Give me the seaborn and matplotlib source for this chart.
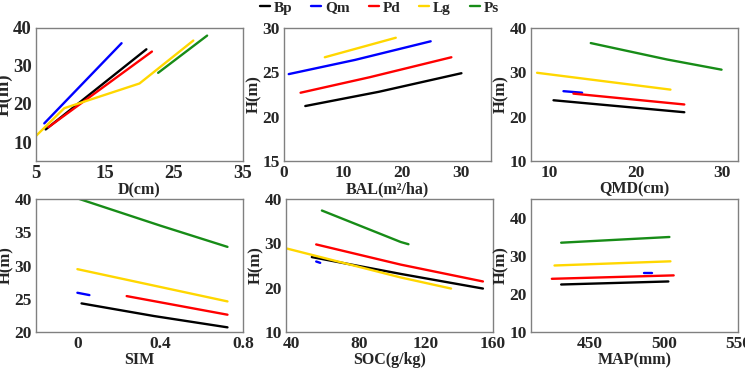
import pandas as pd
import matplotlib.pyplot as plt
import seaborn as sns
from matplotlib.lines import Line2D

species = ['Bp', 'Qm', 'Pd', 'Lg', 'Ps']
colors = {'Bp': 'black', 'Qm': '#0000ff', 'Pd': '#ff0000', 'Lg': '#ffd700', 'Ps': '#178c17'}

# D(cm)
d_bp_x = [6.4, 21.0]; d_bp_y = [13.3, 34.4]
d_qm_x = [6.2, 17.4]; d_qm_y = [14.9, 36.0]
d_pd_x = [6.8, 21.8]; d_pd_y = [13.9, 33.8]
d_lg_x = [5.0, 9.1, 20.0, 27.8]; d_lg_y = [11.6, 18.9, 25.4, 36.7]
d_ps_x = [22.7, 29.8]; d_ps_y = [28.2, 38.0]

# BAL(m2/ha)
bal_bp_x = [3.6, 16.0, 30.0]; bal_bp_y = [21.2, 22.8, 24.9]
bal_qm_x = [0.8, 12.0, 24.8]; bal_qm_y = [24.8, 26.4, 28.5]
bal_pd_x = [2.8, 14.5, 28.3]; bal_pd_y = [22.7, 24.45, 26.7]
bal_lg_x = [6.9, 18.9]; bal_lg_y = [26.7, 28.9]

# QMD(cm)
qmd_bp_x = [10.5, 25.6]; qmd_bp_y = [23.7, 21.0]
qmd_qm_x = [11.65, 13.8]; qmd_qm_y = [25.75, 25.4]
qmd_pd_x = [12.8, 25.6]; qmd_pd_y = [25.2, 22.75]
qmd_lg_x = [8.6, 24.0]; qmd_lg_y = [29.9, 26.1]
qmd_ps_x = [14.8, 23.6, 29.9]; qmd_ps_y = [36.6, 32.9, 30.6]

# SIM
sim_bp_x = [0.02, 0.37, 0.725]; sim_bp_y = [24.3, 22.4, 20.7]
sim_qm_x = [0.0, 0.058]; sim_qm_y = [25.9, 25.55]
sim_pd_x = [0.238, 0.725]; sim_pd_y = [25.4, 22.6]
sim_lg_x = [0.0, 0.725]; sim_lg_y = [29.45, 24.6]
sim_ps_x = [0.0, 0.4, 0.725]; sim_ps_y = [40.1, 36.0, 32.8]

# SOC(g/kg)
soc_bp_x = [52, 105, 154]; soc_bp_y = [26.9, 23.1, 19.8]
soc_qm_x = [54.6, 57.0]; soc_qm_y = [25.9, 25.6]
soc_pd_x = [54.6, 105, 154]; soc_pd_y = [29.75, 25.2, 21.4]
soc_lg_x = [37.4, 105, 135]; soc_lg_y = [28.8, 22.3, 19.8]
soc_ps_x = [58, 105, 109.6]; soc_ps_y = [37.4, 30.3, 29.8]

# MAP(mm)
map_bp_x = [430.4, 502.9]; map_bp_y = [22.5, 23.3]
map_qm_x = [486.7, 491.9]; map_qm_y = [25.5, 25.5]
map_pd_x = [424.1, 506.5]; map_pd_y = [24.0, 24.9]
map_lg_x = [425.9, 504.3]; map_lg_y = [27.5, 28.6]
map_ps_x = [430.4, 503.6]; map_ps_y = [33.5, 35.0]


def make_df(parts):
    rows = []
    for sp, xs, ys in parts:
        for x, y in zip(xs, ys):
            rows.append({'sp': sp, 'x': x, 'y': y})
    return pd.DataFrame(rows)


panels = [
    dict(df=make_df([('Bp', d_bp_x, d_bp_y), ('Qm', d_qm_x, d_qm_y), ('Pd', d_pd_x, d_pd_y),
                     ('Lg', d_lg_x, d_lg_y), ('Ps', d_ps_x, d_ps_y)]),
         xlabel='D(cm)', xlim=(5, 35), ylim=(5, 40), xt=[5, 15, 25, 35], yt=[10, 20, 30, 40]),
    dict(df=make_df([('Bp', bal_bp_x, bal_bp_y), ('Qm', bal_qm_x, bal_qm_y), ('Pd', bal_pd_x, bal_pd_y),
                     ('Lg', bal_lg_x, bal_lg_y)]),
         xlabel='BAL(m²/ha)', xlim=(0, 35), ylim=(15, 30), xt=[0, 10, 20, 30], yt=[15, 20, 25, 30]),
    dict(df=make_df([('Bp', qmd_bp_x, qmd_bp_y), ('Qm', qmd_qm_x, qmd_qm_y), ('Pd', qmd_pd_x, qmd_pd_y),
                     ('Lg', qmd_lg_x, qmd_lg_y), ('Ps', qmd_ps_x, qmd_ps_y)]),
         xlabel='QMD(cm)', xlim=(7.9, 31.8), ylim=(10, 40), xt=[10, 20, 30], yt=[10, 20, 30, 40]),
    dict(df=make_df([('Bp', sim_bp_x, sim_bp_y), ('Qm', sim_qm_x, sim_qm_y), ('Pd', sim_pd_x, sim_pd_y),
                     ('Lg', sim_lg_x, sim_lg_y), ('Ps', sim_ps_x, sim_ps_y)]),
         xlabel='SIM', xlim=(-0.2, 0.8), ylim=(20, 40), xt=[0, 0.4, 0.8], yt=[20, 25, 30, 35, 40]),
    dict(df=make_df([('Bp', soc_bp_x, soc_bp_y), ('Qm', soc_qm_x, soc_qm_y), ('Pd', soc_pd_x, soc_pd_y),
                     ('Lg', soc_lg_x, soc_lg_y), ('Ps', soc_ps_x, soc_ps_y)]),
         xlabel='SOC(g/kg)', xlim=(36.6, 160), ylim=(10, 40), xt=[40, 80, 120, 160], yt=[10, 20, 30, 40]),
    dict(df=make_df([('Bp', map_bp_x, map_bp_y), ('Qm', map_qm_x, map_qm_y), ('Pd', map_pd_x, map_pd_y),
                     ('Lg', map_lg_x, map_lg_y), ('Ps', map_ps_x, map_ps_y)]),
         xlabel='MAP(mm)', xlim=(410, 550), ylim=(10, 45), xt=[450, 500, 550], yt=[10, 20, 30, 40]),
]

sns.set_theme(style='white')
plt.rcParams['font.family'] = ['Liberation Serif', 'DejaVu Serif']
plt.rcParams['font.weight'] = 'bold'

fig = plt.figure(figsize=(7.45, 3.69), dpi=100)
lefts = [36, 284, 531, 36, 286, 531]
bottoms = [1 - 161 / 369, 1 - 332 / 369]
w = 207 / 745
h = 133 / 369

for i, p in enumerate(panels):
    ax = fig.add_axes([lefts[i] / 745, bottoms[i // 3], w, h])
    sns.lineplot(data=p['df'], x='x', y='y', hue='sp', palette=colors, sort=False,
                 estimator=None, legend=False, linewidth=1.7, ax=ax)
    # first panel uses a slightly larger font in the original
    tick_fs = 13.5 if i == 0 else 12.5
    ylab_fs = 13.5 if i == 0 else 12
    ax.set_xlim(p['xlim'])
    ax.set_ylim(p['ylim'])
    ax.set_xticks(p['xt'])
    ax.set_yticks(p['yt'])
    ax.set_xticklabels([('%g' % t) for t in p['xt']], fontsize=tick_fs, fontweight='bold')
    ax.set_yticklabels([('%g' % t) for t in p['yt']], fontsize=tick_fs, fontweight='bold')
    ax.set_xlabel(p['xlabel'], fontsize=11.5, fontweight='bold', labelpad=0)
    ax.set_ylabel('H(m)', fontsize=ylab_fs, fontweight='bold', labelpad=0.5)
    ax.tick_params(length=2, width=0.8, color='#808080', pad=1)
    for s in ax.spines.values():
        s.set_color('#808080')
        s.set_linewidth(1.0)
    if p['xlabel'] == 'SIM':
        ax.set_xticks([0.2, 0.6], minor=True)
        ax.tick_params(which='minor', length=2, color='#808080')

handles = [Line2D([], [], color=colors[s], lw=1.7) for s in species]
fig.legend(handles, species, loc='upper center', bbox_to_anchor=(0.509, 1.035), ncol=5,
           frameon=False, handlelength=0.65, handletextpad=0.25, columnspacing=1.25,
           prop={'family': 'Liberation Serif', 'weight': 'bold', 'size': 11})

fig.savefig('out.png', dpi=100)
